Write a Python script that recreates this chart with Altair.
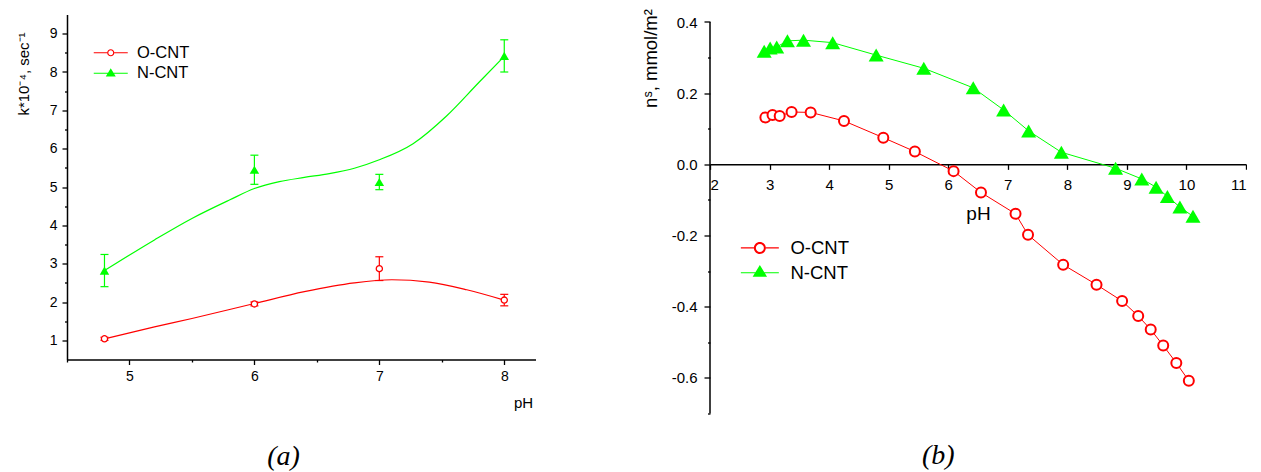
import altair as alt
import pandas as pd

# ---------------- data: panel (a) ----------------
SERIES = ["O-CNT", "N-CNT"]
ph_a = [4.8, 6.0, 7.0, 8.0]
k_ocnt = [1.04, 1.95, 2.87, 2.05]
k_ocnt_err = [0.04, 0.05, 0.31, 0.15]
k_ncnt = [2.82, 5.45, 5.13, 8.42]
k_ncnt_err = [0.42, 0.38, 0.20, 0.42]

fit_ocnt_ph = [4.8, 5.2, 5.5, 6.0, 6.4, 6.8, 7.1, 7.4, 7.7, 8.0]
fit_ocnt_k = [1.04, 1.35, 1.57, 1.96, 2.27, 2.50, 2.58, 2.52, 2.32, 2.05]
fit_ncnt_ph = [4.8, 5.2, 5.5, 5.8, 6.0, 6.2, 6.4, 6.6, 6.8, 7.0, 7.27, 7.54, 7.8, 8.0]
fit_ncnt_k = [2.82, 3.62, 4.18, 4.66, 4.96, 5.14, 5.25, 5.35, 5.49, 5.71, 6.13, 6.86, 7.74, 8.41]

# ---------------- data: panel (b) ----------------
ph_b_ocnt = [2.93, 3.05, 3.17, 3.37, 3.69, 4.25, 4.91, 5.44, 6.09, 6.55,
             7.13, 7.34, 7.93, 8.49, 8.92, 9.19, 9.40, 9.61, 9.83, 10.04]
ns_ocnt = [0.132, 0.139, 0.136, 0.147, 0.146, 0.122, 0.075, 0.036, -0.019, -0.079,
           -0.139, -0.198, -0.282, -0.338, -0.384, -0.426, -0.464, -0.509, -0.558, -0.608]
ph_b_ncnt = [2.91, 3.01, 3.12, 3.30, 3.57, 4.06, 4.79, 5.59, 6.42, 6.93,
             7.35, 7.90, 8.81, 9.25, 9.49, 9.68, 9.89, 10.11]
ns_ncnt = [0.318, 0.327, 0.330, 0.347, 0.349, 0.342, 0.307, 0.270, 0.215, 0.153,
           0.094, 0.034, -0.011, -0.041, -0.064, -0.090, -0.120, -0.146]

xa_ticks = [5, 6, 7, 8]
xa_minor = [4.5, 5.5, 6.5, 7.5]
ya_ticks = [1, 2, 3, 4, 5, 6, 7, 8, 9]
ya_minor = [1.5, 2.5, 3.5, 4.5, 5.5, 6.5, 7.5, 8.5]
xb_ticks = [2, 3, 4, 5, 6, 7, 8, 9, 10, 11]
yb_ticks = [-0.6, -0.4, -0.2, 0.0, 0.2, 0.4]
yb_minor = [-0.7, -0.5, -0.3, -0.1, 0.1, 0.3]

RED = "#ff0000"
GREEN = "#00ff00"
COLORS = {SERIES[0]: RED, SERIES[1]: GREEN}
FONT = "Liberation Sans"

# ---------------- tables ----------------
fit_df = pd.DataFrame({
    "pH": fit_ocnt_ph + fit_ncnt_ph,
    "k": fit_ocnt_k + fit_ncnt_k,
    "series": [SERIES[0]] * len(fit_ocnt_ph) + [SERIES[1]] * len(fit_ncnt_ph),
})
pts_a = pd.DataFrame({
    "pH": ph_a + ph_a,
    "k": k_ocnt + k_ncnt,
    "err": k_ocnt_err + k_ncnt_err,
    "series": [SERIES[0]] * len(ph_a) + [SERIES[1]] * len(ph_a),
})
pts_a["lo"] = pts_a["k"] - pts_a["err"]
pts_a["hi"] = pts_a["k"] + pts_a["err"]
pts_b = pd.DataFrame({
    "pH": ph_b_ocnt + ph_b_ncnt,
    "ns": ns_ocnt + ns_ncnt,
    "series": [SERIES[0]] * len(ph_b_ocnt) + [SERIES[1]] * len(ph_b_ncnt),
})


# ---------------- legend symbol shapes (line + marker) ----------------
def rect(x1, x2, hh):
    return f"M{x1:.3f} {-hh:.3f}L{x2:.3f} {-hh:.3f}L{x2:.3f} {hh:.3f}L{x1:.3f} {hh:.3f}Z"


def ring_symbol(L, R, r, hh):
    return (rect(-L, -R, hh) + rect(R, L, hh)
            + f"M{R:.3f} 0A{R:.3f} {R:.3f} 0 1 1 {-R:.3f} 0A{R:.3f} {R:.3f} 0 1 1 {R:.3f} 0Z"
            + f"M{r:.3f} 0A{r:.3f} {r:.3f} 0 1 0 {-r:.3f} 0A{r:.3f} {r:.3f} 0 1 0 {r:.3f} 0Z")


def tri_symbol(L, w, top, bot, hh):
    w0 = w * (0 - top) / (bot - top)
    return (rect(-L, -w0 + 0.05, hh) + rect(w0 - 0.05, L, hh)
            + f"M0 {top:.3f}L{w:.3f} {bot:.3f}L{-w:.3f} {bot:.3f}Z")


def only(chart, s):
    return chart.transform_filter(alt.datum.series == s)


# ======================= panel (a) =======================
WA, HA = 468.5, 345
xa = alt.Scale(domain=[4.5, 8.25], nice=False, zero=False)
ya = alt.Scale(domain=[0.5, 9.5], nice=False, zero=False)

ax_xa = alt.Axis(values=xa_ticks, format="d", tickSize=5, labelPadding=5, labelFontSize=14,
                 domainWidth=1.5, tickWidth=1.3, title="pH", titleFontSize=15,
                 titleX=456, titleY=48.3, titleAlign="center", titleBaseline="alphabetic")
ax_ya = alt.Axis(values=ya_ticks, format="d", tickSize=5, labelPadding=5, labelFontSize=14,
                 domainWidth=1.5, tickWidth=1.3, title="k*10⁻⁴, sec⁻¹", titleFontSize=15,
                 titleAngle=270, titleX=-38.2, titleY=59, titleAlign="center",
                 titleBaseline="alphabetic")


def XA(field="pH"):
    return alt.X(f"{field}:Q", scale=xa, axis=ax_xa)


def YA(field):
    return alt.Y(f"{field}:Q", scale=ya, axis=ax_ya)


layers_a = []
for s in SERIES:
    c = COLORS[s]
    layers_a.append(only(alt.Chart(fit_df), s).mark_line(
        strokeWidth=1.2, interpolate="monotone", color=c).encode(x=XA(), y=YA("k")))
    layers_a.append(only(alt.Chart(pts_a), s).mark_rule(strokeWidth=1.2, color=c).encode(
        x=XA(), y=YA("lo"), y2="hi:Q"))
    for f in ["lo", "hi"]:
        layers_a.append(only(alt.Chart(pts_a), s).mark_tick(
            orient="horizontal", size=8, thickness=1.2, opacity=1, color=c).encode(x=XA(), y=YA(f)))

layers_a.append(only(alt.Chart(pts_a), SERIES[0]).mark_point(
    shape="circle", size=38, filled=True, fill="white", stroke=RED, strokeWidth=1.3, opacity=1
).encode(x=XA(), y=YA("k")))
layers_a.append(only(alt.Chart(pts_a), SERIES[1]).mark_point(
    shape="triangle-up", size=90, filled=True, fill=GREEN, strokeWidth=0, opacity=1
).encode(x=XA(), y=YA("k")))

leg_a = alt.Legend(orient="none", legendX=35.5, legendY=30, title=None, labelFont=FONT,
                   labelFontSize=16.5, labelColor="black", symbolSize=256, symbolStrokeWidth=0,
                   symbolOpacity=1, labelOffset=18, rowPadding=3.5, padding=0)
shape_a = [ring_symbol(2.125, 0.45, 0.30, 0.0625), tri_symbol(2.125, 0.625, -0.625, 0.42, 0.0625)]
layers_a.append(alt.Chart(pts_a).mark_point(filled=True, size=256, opacity=0).encode(
    x=XA(), y=YA("k"),
    fill=alt.Fill("series:N", scale=alt.Scale(domain=SERIES, range=[RED, GREEN]), legend=leg_a),
    shape=alt.Shape("series:N", scale=alt.Scale(domain=SERIES, range=shape_a), legend=leg_a),
))

main_a = alt.layer(*layers_a)
minor_a = alt.Chart(fit_df).mark_point(opacity=0).encode(
    x=alt.X("pH:Q", scale=xa, axis=alt.Axis(values=xa_minor, labels=False, domain=False, tickSize=2.5,
                                            tickWidth=1.3, title=None, orient="bottom")),
    y=alt.Y("k:Q", scale=ya, axis=alt.Axis(values=ya_minor, labels=False, domain=False, tickSize=2.5,
                                           tickWidth=1.3, orient="left", title=None)),
)
panel_a = alt.layer(main_a, minor_a).resolve_scale(x="independent", y="independent").properties(
    width=WA, height=HA,
    title=alt.TitleParams("(a)", orient="bottom", anchor="middle", frame="group", dx=-17.7, offset=53.7,
                          font="Liberation Serif", fontSize=28, fontStyle="italic", fontWeight="normal",
                          color="black", baseline="alphabetic"))

# ======================= panel (b) =======================
WB = 536
PX_PER_UNIT_B = 391.5 / 1.1
TOP_GAP = 7.5                      # blank band above the 0.4 tick
YB_MIN, YB_AXIS_TOP = -0.7, 0.4
YB_MAX = YB_AXIS_TOP + TOP_GAP / PX_PER_UNIT_B
HB = 391.5 + TOP_GAP
xb = alt.Scale(domain=[2, 11], nice=False, zero=False)
yb = alt.Scale(domain=[YB_MIN, YB_MAX], nice=False, zero=False)
x_axis_offset = -HB * (0 - YB_MIN) / (YB_MAX - YB_MIN)

ax_xb = alt.Axis(values=xb_ticks, format="d", offset=x_axis_offset, tickSize=5, labelPadding=8,
                 labelFontSize=15, domainWidth=1.5, tickWidth=1.3, title="pH", titleFontSize=19,
                 titleX=268, titleY=55, titleAlign="center", titleBaseline="alphabetic")
ax_yb = alt.Axis(values=yb_ticks,
                 labelExpr="(datum.value < -0.001 ? '-' : '') + format(abs(datum.value), '.1f')",
                 domain=False, tickSize=6, labelPadding=7, labelFontSize=15, tickWidth=1.3,
                 title="nˢ, mmol/m²", titleFontSize=18.5, titleAngle=270, titleX=-54,
                 titleY=36 + TOP_GAP, titleAlign="center", titleBaseline="alphabetic")


def XB(field="pH"):
    return alt.X(f"{field}:Q", scale=xb, axis=ax_xb)


def YB(field="ns"):
    return alt.Y(f"{field}:Q", scale=yb, axis=ax_yb)


axis_line_df = pd.DataFrame({"pH": [2], "lo": [YB_MIN], "hi": [YB_AXIS_TOP]})
layers_b = [alt.Chart(axis_line_df).mark_rule(color="black", strokeWidth=1.5).encode(
    x=XB(), y=YB("lo"), y2="hi:Q")]
for s in SERIES:
    layers_b.append(only(alt.Chart(pts_b), s).mark_line(strokeWidth=1, color=COLORS[s]).encode(
        x=XB(), y=YB()))
layers_b.append(only(alt.Chart(pts_b), SERIES[0]).mark_point(
    shape="circle", size=100, filled=True, fill="white", stroke=RED, strokeWidth=2, opacity=1
).encode(x=XB(), y=YB()))
layers_b.append(only(alt.Chart(pts_b), SERIES[1]).mark_point(
    shape="triangle-up", size=225, filled=True, fill=GREEN, strokeWidth=0, opacity=1
).encode(x=XB(), y=YB()))

leg_b = alt.Legend(orient="none", legendX=40.6, legendY=216.7 + TOP_GAP, title=None, labelFont=FONT,
                   labelFontSize=18.5, labelColor="black", symbolSize=324, symbolStrokeWidth=0,
                   symbolOpacity=1, labelOffset=21.3, rowPadding=5.8, padding=0)
shape_b = [ring_symbol(2.11, 0.667, 0.444, 0.067), tri_symbol(2.11, 0.8, -0.85, 0.45, 0.067)]
layers_b.append(alt.Chart(pts_b).mark_point(filled=True, size=324, opacity=0).encode(
    x=XB(), y=YB(),
    fill=alt.Fill("series:N", scale=alt.Scale(domain=SERIES, range=[RED, GREEN]), legend=leg_b),
    shape=alt.Shape("series:N", scale=alt.Scale(domain=SERIES, range=shape_b), legend=leg_b),
))

main_b = alt.layer(*layers_b)
minor_b = alt.Chart(pts_b).mark_point(opacity=0).encode(
    x=alt.X("pH:Q", scale=xb, axis=None),
    y=alt.Y("ns:Q", scale=yb, axis=alt.Axis(values=yb_minor, labels=False, domain=False, tickSize=2.5,
                                            tickWidth=1.3, orient="left", title=None)),
)
panel_b = alt.layer(main_b, minor_b).resolve_scale(x="independent", y="independent").properties(
    width=WB, height=HB,
    title=alt.TitleParams("(b)", orient="bottom", anchor="middle", frame="group", dx=-39.7, offset=49.3,
                          font="Liberation Serif", fontSize=28, fontStyle="italic", fontWeight="normal",
                          color="black", baseline="alphabetic"))

chart = alt.hconcat(panel_a, panel_b, spacing=105).resolve_scale(
    fill="independent", shape="independent"
).resolve_legend(
    fill="independent", shape="independent"
).properties(
    padding={"left": 8, "top": 0.5, "right": 0, "bottom": 0}
).configure_view(stroke=None).configure_axis(
    grid=False, domainColor="black", tickColor="black", labelColor="black", titleColor="black",
    labelFont=FONT, titleFont=FONT, titleFontWeight="normal"
)

chart.save("out.html", embed_options={"renderer": "svg", "actions": False})
